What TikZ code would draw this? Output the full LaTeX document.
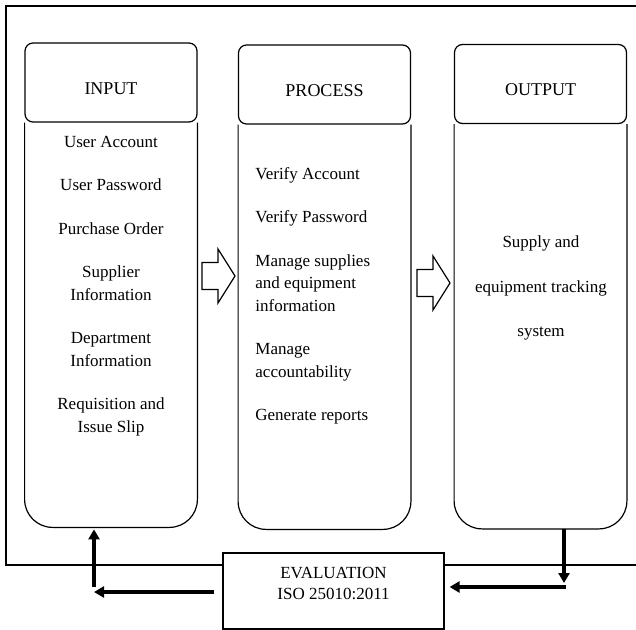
\documentclass[tikz,border=0pt]{standalone}
\usepackage{fontspec}
\setmainfont{Liberation Serif}
\usetikzlibrary{positioning, arrows.meta}

\begin{document}
\begin{tikzpicture}[x=0.5pt, y=-0.5pt,
  colhead/.style={draw, line width=0.6pt, rounded corners=4pt, fill=white,
    minimum width=86pt, minimum height=39.5pt, inner sep=0pt,
    font=\fontsize{9}{11}\selectfont},
  colbody/.style={minimum width=86pt, minimum height=202pt, inner sep=0pt},
  coltext/.style={font=\fontsize{8.5}{11.25}\selectfont, inner sep=0pt},
  fb/.style={line width=1.7pt, -{Triangle[length=5pt, width=5.5pt]}},
  blockarrow/.style={draw, line width=0.6pt, fill=white}]

  \useasboundingbox (0,0) rectangle (636,630);

  % outer frame (runs off the right edge)
  \draw[line width=0.6pt] (636,6) -- (6,6) -- (6,565) -- (636,565);

  % the three columns: header box + body with round bottom
  \foreach \nm/\cx/\cy/\ttl in {in/111/82.5/INPUT, proc/324.5/84.5/PROCESS, out/540.5/84/OUTPUT} {
    \node[colhead] (\nm head) at (\cx,\cy) {\raisebox{-2pt}[\dimexpr\height+2pt][0pt]{\ttl}};
    \node[colbody, below=0pt of \nm head] (\nm body) {};
    \draw[line width=0.6pt, rounded corners=14pt]
      (\nm body.north west) -- (\nm body.south west) -- (\nm body.south east) -- (\nm body.north east);
  }

  % column contents
  \node[coltext, align=center] (intext) at (111,286)
    {User Account\\[10.5pt] User Password\\[10.5pt] Purchase Order\\[10.5pt]
     Supplier\\Information\\[10.5pt] Department\\Information\\[10.5pt]
     Requisition and\\Issue Slip};
  \node[coltext, align=left, anchor=west] (proctext) at (255,296)
    {Verify Account\\[10.5pt] Verify Password\\[10.5pt]
     Manage supplies\\and equipment\\information\\[10.5pt]
     Manage\\accountability\\[10.5pt] Generate reports};
  \node[coltext, align=center] (outtext) at (541,288)
    {Supply and\\[11pt] equipment tracking\\[11pt] system};

  % hollow arrows between the columns
  \foreach \ax/\ay in {202/276, 417/283} {
    \draw[blockarrow] (\ax,\ay-13.5) -- (\ax+16,\ay-13.5) -- (\ax+16,\ay-27) -- (\ax+33,\ay)
      -- (\ax+16,\ay+27) -- (\ax+16,\ay+13.5) -- (\ax,\ay+13.5) -- cycle;
  }

  % evaluation box sits on the frame line
  \node[draw, line width=0.6pt, fill=white, minimum width=110.5pt, minimum height=38pt,
    inner sep=0pt] (eval) at (333.5,591) {};
  \node[coltext, align=center, font=\fontsize{8.5}{10.5}\selectfont] (evaltext) at (333.5,583)
    {EVALUATION\\ISO 25010:2011};

  % feedback loop
  \coordinate (rturn) at (564,587);
  \coordinate (lturn) at (94,592);
  \draw[fb] (rturn |- outbody.south) -- ([yshift=2pt]rturn);
  \draw[fb, shorten >=2.5pt] ([xshift=0.85pt]rturn) -- (eval.east |- rturn);
  \draw[fb, shorten <=4pt] (eval.west |- lturn) -- (lturn);
  \draw[fb, shorten >=1pt] ([yshift=2.5pt]lturn) -- (lturn |- inbody.south);

\end{tikzpicture}
\end{document}
